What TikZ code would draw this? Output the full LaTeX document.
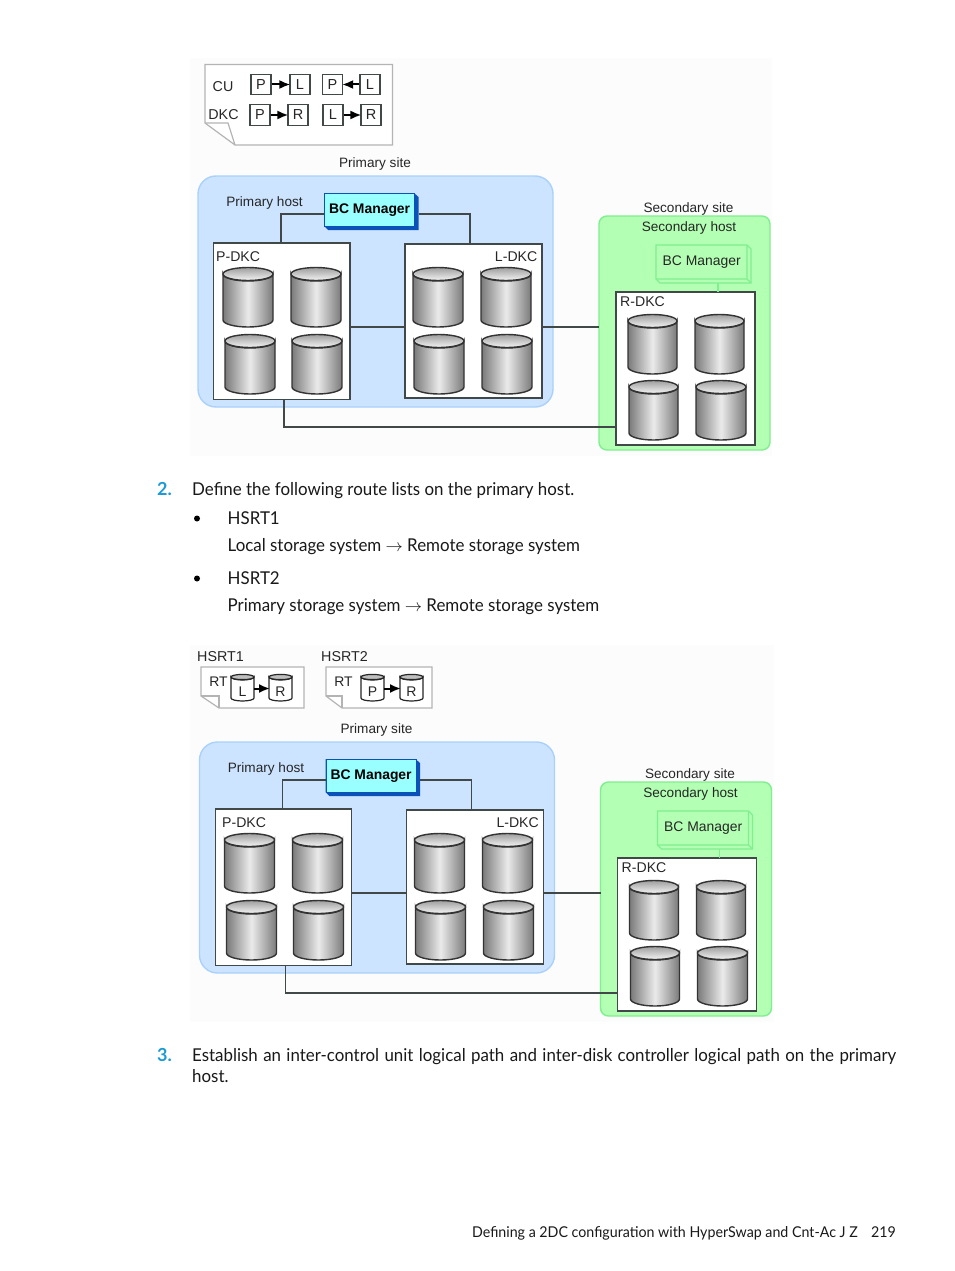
\documentclass[tikz,border=0pt]{standalone}
\usepackage{fontspec}
\setmainfont{Liberation Sans}
\newfontfamily\bodyfont[FakeStretch=0.955]{Lato}
\newfontfamily\boldnum{Lato Bold}
\usetikzlibrary{arrows.meta,positioning,calc}
\definecolor{sitefill}{HTML}{CCE4FF}
\definecolor{sitedraw}{HTML}{A9D1FB}
\definecolor{secfill}{HTML}{B3FFB3}
\definecolor{secdraw}{HTML}{7FEF8F}
\definecolor{bcfill}{HTML}{99FFFF}
\definecolor{bcdraw}{HTML}{0B52B8}
\definecolor{stepblue}{HTML}{1C9AD6}
\definecolor{linegray}{HTML}{404848}
\definecolor{notegray}{HTML}{B4B4B4}
\tikzset{
  x=1pt,y=-1pt,
  dtext/.style={inner sep=0pt,yshift=-1.5pt,font=\fontsize{13.6}{15}\selectfont,text=black!85},
  btext/.style={inner sep=0pt,anchor=base west,font=\bodyfont\fontsize{17.7}{22}\selectfont,text=black!90},
  dkc/.style={draw=linegray,fill=white,line width=1.4pt,outer sep=0pt,minimum width=0pt,inner sep=0pt,rectangle},
  wire/.style={draw=linegray,line width=1.2pt},
  flow/.style={draw=black,line width=2pt,-{Latex[length=11pt,width=9pt]},shorten >=-1pt},
  letter/.style={draw=linegray,fill=white,line width=1.2pt,inner sep=0pt,minimum width=20pt,minimum height=20.5pt,font=\fontsize{14.5}{15}\selectfont,text=black!85},
}
\newcommand{\cyl}[5]{%
  \coordinate (#1) at ({#2+#4/2},{#3+#5/2});
  \path[left color=black!52,right color=black!52,middle color=black!8,draw=black!80,line width=1.4pt]
    (#2,#3+7) -- (#2,#3+#5-7) arc[start angle=180,end angle=360,x radius=#4/2,y radius=-7]
    -- (#2+#4,#3+7) arc[start angle=0,end angle=-180,x radius=#4/2,y radius=-7] -- cycle;
  \path[top color=black!38,bottom color=black!4,draw=black!80,line width=1.4pt] ({#2+#4/2},#3+7) ellipse[x radius=#4/2,y radius=6.5];
}
\newcommand{\scyl}[5]{%
  \path[fill=white,draw=black!85,line width=1.2pt]
    (#2,#3+3) -- (#2,#3+24) arc[start angle=180,end angle=360,x radius=11.5,y radius=-3]
    -- (#2+23,#3+3) arc[start angle=0,end angle=-180,x radius=11.5,y radius=-3] -- cycle;
  \path[fill=black!25,draw=black!85,line width=1.2pt] (#2+11.5,#3+3) ellipse[x radius=11.5,y radius=2.6];
  \node[inner sep=0pt,font=\fontsize{14}{15}\selectfont,text=black!85] (#1) at (#2+11.5,#3+17.5) {#4};
  \coordinate (#1w) at (#2,#3+14.5);
  \coordinate (#1e) at (#2+23,#3+14.5);
}
\newcommand{\sitediagram}[4]{%
\begin{scope}[shift={(#1,#2)},name prefix=#4-]
  \path[fill=sitefill,draw=sitedraw,line width=1.4pt,rounded corners=18pt] (198,176) rectangle (553,407);
  \path[fill=secfill,draw=secdraw,line width=1.4pt,rounded corners=8pt] (599,216) rectangle (770,450);
  \node[dtext] (psite) at (375,162.5) {Primary site};
  \node[dtext] (phost) at (264.5,201) {Primary host};
  \node[dtext] (ssite) at (688.5,207) {Secondary site};
  \node[dtext] (shost) at (689,226.5) {Secondary host};
  \node[dkc,minimum width=136.3pt,minimum height=156.5pt,anchor=north west] (pdkc) at (213.7,243) {};
  \node[dkc,minimum width=137pt,minimum height=154pt,anchor=north west] (ldkc) at (405,244) {};
  \node[dkc,minimum width=139pt,minimum height=153pt,anchor=north west] (rdkc) at (616,292) {};
  \node[dtext,anchor=west,font=\fontsize{14.1}{15}\selectfont] (plab) at (#3,255) {P-DKC};
  \node[dtext,anchor=east,font=\fontsize{14.1}{15}\selectfont] (llab) at (537.5,255) {L-DKC};
  \node[dtext,anchor=west,font=\fontsize{14.1}{15}\selectfont] (rlab) at (620,300) {R-DKC};
  \path[fill=bcdraw] (324,193) -- (414,193) -- (418.5,197) -- (418.5,230) -- (328,230) -- (324,226) -- cycle;
  \node[rectangle,draw=bcdraw,fill=bcfill,line width=1.2pt,minimum width=90pt,minimum height=33pt,inner sep=0pt,anchor=north west,font=\bfseries\fontsize{13.9}{15}\selectfont,text=black] (bc) at (324,193) {BC Manager};
  \path[draw=secdraw,line width=1.1pt,fill=secfill] (656,245) -- (747,245) -- (751,249) -- (751,283) -- (660,283) -- (656,279) -- cycle;
  \draw[secdraw,line width=1.1pt] (656,279) -- (747,279) -- (747,245) (747,279) -- (751,283);
  \node[inner sep=0pt,minimum width=91pt,minimum height=34pt,anchor=north west,font=\fontsize{13.9}{15}\selectfont,text=black!85] (sbc) at (656,245) {BC Manager};
  \draw[wire] (bc.west |- 0,214) -| (pdkc.north -| 281,0);
  \draw[wire] (418.5,214) -| (ldkc.north -| 470,0);
  \draw[wire] (pdkc.east |- 0,327) -- (ldkc.west |- 0,327);
  \draw[wire] (ldkc.east |- 0,327) -- (599,327);
  \draw[wire] (rdkc.west |- 0,427) -| (pdkc.south -| 284,0);
  \draw[secdraw,line width=1.1pt] (718,283) -- (rdkc.north -| 718,0);
  \cyl{p1}{223}{267}{50}{60}\cyl{p2}{291}{267}{50}{60}
  \cyl{p3}{225}{334}{50}{60}\cyl{p4}{292}{334}{50}{60}
  \cyl{l1}{413}{267}{50}{60}\cyl{l2}{481}{267}{50}{60}
  \cyl{l3}{414}{334}{50}{60}\cyl{l4}{482}{334}{50}{60}
  \cyl{r1}{628}{314}{49}{60}\cyl{r2}{695}{314}{49}{60}
  \cyl{r3}{629}{380}{49}{60}\cyl{r4}{696}{380}{50}{60}
\end{scope}}
\begin{document}
\begin{tikzpicture}
\useasboundingbox (0,0) rectangle (954,1271);
\path[fill=white] (0,0) rectangle (954,1271);
\path[fill=black!1] (190,58) rectangle (772,456);
\path[fill=black!1] (190,645) rectangle (774,1022);
\path[fill=white,draw=notegray,line width=1.2pt] (205,64.5) -- (392.5,64.5) -- (392.5,145) -- (235,145) -- (205,123) -- cycle;
\draw[notegray,line width=1.2pt] (205,123) -- (228,123) -- (235,145);
\node[dtext,font=\fontsize{14.3}{16}\selectfont] (cu) at (223,85.5) {CU};
\node[dtext,font=\fontsize{14.3}{16}\selectfont] (dkclab) at (223.5,113.5) {DKC};
\node[letter] (a1) at (261,84.5) {P};
\node[letter] (a2) at (300,84.5) {L};
\node[letter] (a3) at (332.5,84.5) {P};
\node[letter] (a4) at (370,84.5) {L};
\node[letter] (b1) at (260,115) {P};
\node[letter] (b2) at (298,115) {R};
\node[letter] (b3) at (333,115) {L};
\node[letter] (b4) at (371,115) {R};
\draw[flow] (a1) -- (a2);
\draw[flow] (a4) -- (a3);
\draw[flow] (b1) -- (b2);
\draw[flow] (b3) -- (b4);
\sitediagram{0}{0}{216}{top}
\sitediagram{1.5}{566}{220.5}{bot}
\node[dtext,anchor=west,font=\fontsize{14.3}{16}\selectfont] (h1) at (197,655) {HSRT1};
\node[dtext,anchor=west,font=\fontsize{14.3}{16}\selectfont] (h2) at (321,655) {HSRT2};
\path[fill=white,draw=notegray,line width=1.2pt] (201,667) -- (304,667) -- (304,708) -- (219,708) -- (201,696) -- cycle;
\draw[notegray,line width=1.2pt] (201,696) -- (219,696) -- (219,708);
\path[fill=white,draw=notegray,line width=1.2pt] (326,667) -- (432,667) -- (432,708) -- (342,708) -- (326,696) -- cycle;
\draw[notegray,line width=1.2pt] (326,696) -- (342,696) -- (342,708);
\node[dtext,font=\fontsize{13.9}{15}\selectfont] (rt1) at (218.5,680.5) {RT};
\node[dtext,font=\fontsize{13.9}{15}\selectfont] (rt2) at (343.5,680.5) {RT};
\scyl{c1}{231}{674}{L}{}
\scyl{c2}{269}{674}{R}{}
\scyl{c3}{361}{674}{P}{}
\scyl{c4}{400}{674}{R}{}
\draw[flow] (c1e) -- (c2w);
\draw[flow] (c3e) -- (c4w);
\node[btext,text=stepblue,font=\boldnum\fontsize{18}{22}\selectfont] (n2) at (157,495) {2.};
\node[btext] (t2) at (192,495) {Define the following route lists on the primary host.};
\node[inner sep=0pt,circle,fill=black,minimum size=6pt] (b1m) at (197,518.5) {};
\node[btext] (t3) at (227.5,524) {HSRT1};
\node[btext] (t4) at (227.5,551) {Local storage system $\rightarrow$ Remote storage system};
\node[inner sep=0pt,circle,fill=black,minimum size=6pt] (b2m) at (197,578.5) {};
\node[btext] (t5) at (227.5,584) {HSRT2};
\node[btext] (t6) at (227.5,611) {Primary storage system $\rightarrow$ Remote storage system};
\node[btext,text=stepblue,font=\boldnum\fontsize{18}{22}\selectfont] (n3) at (157,1061) {3.};
\node[btext] (t7) at (192,1061) {\makebox[704pt][s]{Establish an inter-control unit logical path and inter-disk controller logical path on the primary}};
\node[btext] (t8) at (192,1082) {host.};
\node[btext,anchor=base east,font=\bodyfont\fontsize{14.9}{18}\selectfont] (f1) at (858,1237) {Defining a 2DC configuration with HyperSwap and Cnt-Ac J Z};
\node[btext,anchor=base east,font=\bodyfont\fontsize{14.9}{18}\selectfont] (f2) at (896,1237) {219};
\end{tikzpicture}
\end{document}
